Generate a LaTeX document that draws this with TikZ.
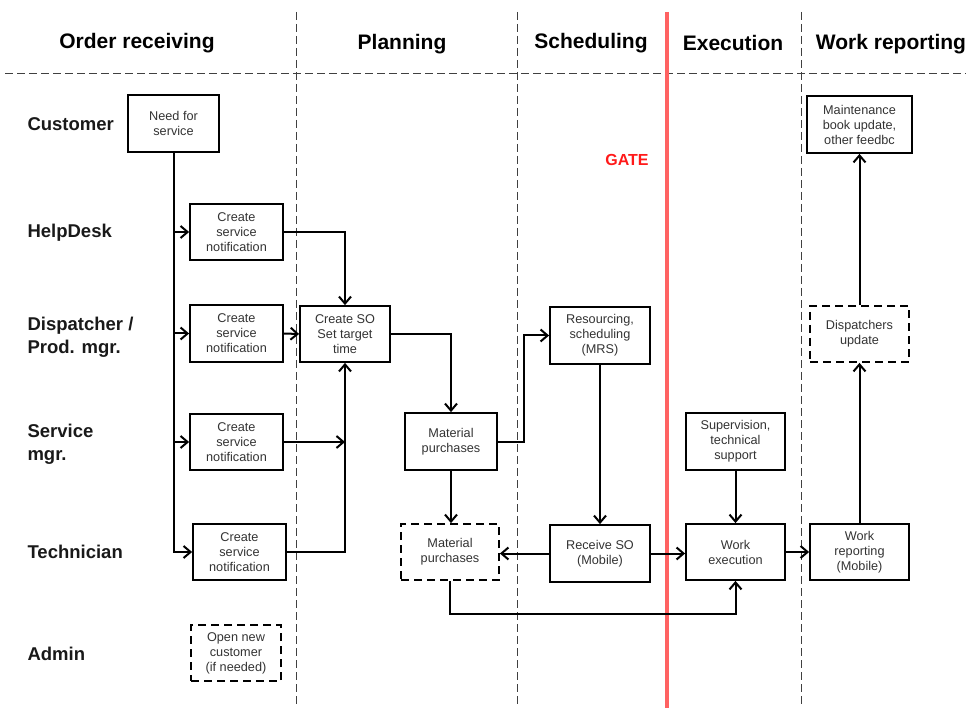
\documentclass[tikz,border=0pt]{standalone}
\usepackage{fontspec}
\setmainfont{Liberation Sans}
\usetikzlibrary{arrows.meta}
\definecolor{txtgray}{HTML}{333333}
\definecolor{gatered}{HTML}{FF1A1A}
\definecolor{linered}{HTML}{FF6262}
\definecolor{dashgray}{HTML}{404040}
\tikzset{
  box/.style={draw, line width=1.8pt, align=center, inner sep=0pt, text=txtgray,
    font=\fontsize{12.7}{15}\selectfont},
  dbox/.style={box, dash pattern=on 8pt off 5pt},
  flowline/.style={draw=black, line width=2pt, arrows={-Straight Barb[length=7pt,width=12pt,line width=2pt]}},
  lane/.style={draw=dashgray, line width=1pt, dash pattern=on 8pt off 4pt},
  head/.style={font=\fontsize{21}{25}\selectfont\bfseries, text=black},
  rowlab/.style={font=\fontsize{18.5}{23}\selectfont\bfseries, text=black!90, anchor=west, align=left},
}
\begin{document}
\begin{tikzpicture}[x=1pt,y=-1pt]
\useasboundingbox (0,0) rectangle (966,708);
% lanes
\coordinate (h1) at (5,74); \coordinate (h2) at (966,74);
\draw[lane] (h1) -- (h2);
\coordinate (v1t) at (296,12); \coordinate (v1b) at (296,708);
\coordinate (v2t) at (517,12); \coordinate (v2b) at (517,708);
\coordinate (v3t) at (801,12); \coordinate (v3b) at (801,708);
\draw[lane] (v1t) -- (v1b);
\draw[lane] (v2t) -- (v2b);
\draw[lane] (v3t) -- (v3b);
\coordinate (rt) at (667,12); \coordinate (rb) at (667,708);
\draw[linered, line width=4pt] (rt) -- (rb);
% headers
\node[head] (H1) at (137,43) {Order receiving};
\node[head] (H2) at (402,44) {Planning};
\node[head] (H3) at (591,43) {Scheduling};
\node[head] (H4) at (733,43) {Execution};
\node[head] (H5) at (891,44) {Work reporting};
% row labels
\node[rowlab] (L1) at (24,124) {Customer};
\node[rowlab] (L2) at (24,233) {HelpDesk};
\node[rowlab] (L3) at (24,337) {Dispatcher /\\Prod. mgr.};
\node[rowlab] (L4) at (24,444) {Service\\mgr.};
\node[rowlab] (L5) at (24,552) {Technician};
\node[rowlab] (L6) at (24,654) {Admin};
\node[font=\fontsize{16}{19}\selectfont\bfseries, text=gatered] (gate) at (627,160) {GATE};
% nodes
\node[box, minimum width=91pt, minimum height=57pt] (need) at (173.5,123.5) {Need for\\service};
\node[box, minimum width=93pt, minimum height=56pt] (hd) at (236.5,232) {Create\\service\\notification};
\node[box, minimum width=93pt, minimum height=57pt] (dp) at (236.5,333.5) {Create\\service\\notification};
\node[box, minimum width=93pt, minimum height=56pt] (sv) at (236.5,442) {Create\\service\\notification};
\node[box, minimum width=93pt, minimum height=56pt] (tc) at (239.5,552) {Create\\service\\notification};
\node[dbox, minimum width=90pt, minimum height=56pt] (adm) at (236,653) {Open new\\customer\\(if needed)};
\node[box, minimum width=90pt, minimum height=56pt] (so) at (345,334) {Create SO\\Set target\\time};
\node[box, minimum width=92pt, minimum height=57pt] (mp1) at (451,441.5) {Material\\purchases};
\node[dbox, minimum width=98pt, minimum height=56pt] (mp2) at (450,552) {Material\\purchases};
\node[box, minimum width=100pt, minimum height=57pt] (res) at (600,335.5) {Resourcing,\\scheduling\\(MRS)};
\node[box, minimum width=100pt, minimum height=57pt] (rcv) at (600,553.5) {Receive SO\\(Mobile)};
\node[box, minimum width=99pt, minimum height=57pt] (sup) at (735.5,441.5) {Supervision,\\technical\\support};
\node[box, minimum width=99pt, minimum height=56pt] (wex) at (735.5,552) {Work\\execution};
\node[box, minimum width=105pt, minimum height=57pt] (mnt) at (859.5,124.5) {Maintenance\\book update,\\other feedbc};
\node[dbox, minimum width=99pt, minimum height=56pt] (dup) at (859.5,334) {Dispatchers\\update};
\node[box, minimum width=99pt, minimum height=56pt] (wrp) at (859.5,552) {Work\\reporting\\(Mobile)};
% connectors
\path[flowline] (need.south) |- (tc.west);
\path[flowline] (need.south |- hd.west) -- (hd.west);
\path[flowline] (need.south |- dp.west) -- (dp.west);
\path[flowline] (need.south |- sv.west) -- (sv.west);
\path[flowline] (hd.east) -| (so.north);
\path[flowline] (dp.east) -- (so.west);
\path[flowline] (sv.east) -- (so.south |- sv.east);
\path[flowline] (tc.east) -| (so.south);
\path[flowline] (so.east) -| (mp1.north);
\coordinate (j1) at (524,441.5);
\path[flowline] (mp1.east) -- (j1) |- (res.west);
\path[flowline] (mp1.south) -- (mp1.south |- mp2.north);
\path[flowline] (res.south) -- (rcv.north);
\path[flowline] (rcv.west) -- (mp2.east |- rcv.west);
\path[flowline] (rcv.east) -- (wex.west |- rcv.east);
\coordinate (j2) at (450,614);
\path[flowline] (mp2.south) -- (j2) -| (wex.south);
\path[flowline] (sup.south) -- (wex.north);
\path[flowline] (wex.east) -- (wrp.west);
\path[flowline] (wrp.north) -- (dup.south);
\path[flowline] (dup.north) -- (mnt.south);
\end{tikzpicture}
\end{document}
